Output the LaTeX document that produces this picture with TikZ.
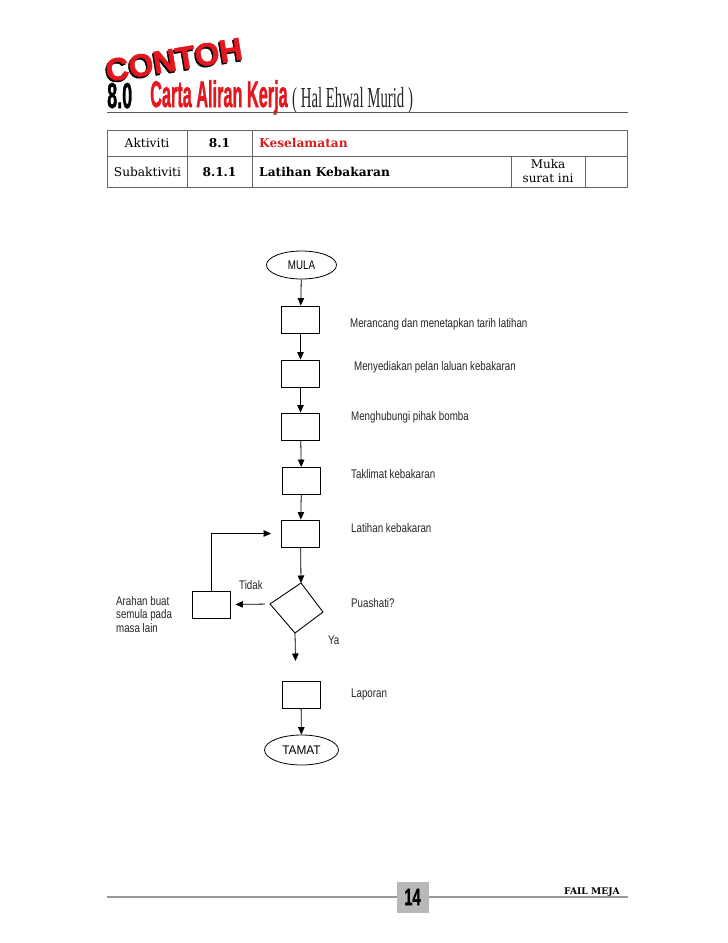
\documentclass[tikz,border=0pt]{standalone}
\usepackage{fontspec}
\setmainfont{Liberation Sans}
\newfontfamily\serifbk{DejaVu Serif}
\newfontfamily\timesf{Liberation Serif}
\newfontfamily\heavy{Liberation Sans}[BoldFeatures={FakeBold=1.5}]
\usetikzlibrary{shapes.geometric,arrows.meta}
\definecolor{titlered}{RGB}{228,22,30}
\definecolor{tblred}{RGB}{212,32,32}
\newcommand\narrowtxt[1]{\scalebox{0.78}[1]{#1}}
\newcommand\shadowtxt[1]{\makebox[0pt][l]{\hspace{-1.5pt}\raisebox{-1.5pt}{\color{black}#1}}#1}
\begin{document}
\begin{tikzpicture}[x=1pt,y=-1pt,
  flowbox/.style={draw, line width=0.9pt, minimum width=38pt, minimum height=27pt, inner sep=0pt},
  term/.style={draw, ellipse, line width=0.8pt, minimum width=70pt, minimum height=28pt, inner sep=0pt, font=\fontsize{12.5}{14}\selectfont},
  lbl/.style={anchor=base west, inner sep=0pt, font=\fontsize{12.5}{14}\selectfont, text=black!85},
  arr/.style={-{Triangle[length=7.5pt,width=6.5pt]}, line width=0.8pt},
  tbl/.style={draw=black!60, line width=0.8pt},
  tbtxt/.style={inner sep=0pt, font=\serifbk\fontsize{12.2}{14}\selectfont}
]
\fill[white] (0,0) rectangle (728,943);
\useasboundingbox (0,0) rectangle (728,943);

% ---- title ----
\node[anchor=base west, inner sep=0pt, rotate=9.5, text=titlered] (contoh) at (107.5,82)
  {\heavy\bfseries\fontsize{32}{32}\selectfont \shadowtxt{CONTOH}};
\node[anchor=base west, inner sep=0pt] (eight) at (107,108)
  {\scalebox{0.5}[1]{\heavy\bfseries\fontsize{36}{36}\selectfont 8.0}};
\node[anchor=base west, inner sep=0pt, text=titlered] (carta) at (150,107)
  {\scalebox{0.44}[1]{\heavy\bfseries\fontsize{37}{37}\selectfont Carta Aliran Kerja}};
\node[anchor=base west, inner sep=0pt, text=black!85] (hal) at (292,107)
  {\scalebox{0.51}[1]{\timesf\fontsize{29}{29}\selectfont ( Hal Ehwal Murid )}};
\draw[black!65, line width=1pt] (107,112) -- (628,112);

% ---- table ----
\draw[tbl] (107,130) rectangle (627,187);
\draw[tbl] (107,156) -- (627,156);
\draw[tbl] (187,130) -- (187,187);
\draw[tbl] (252,130) -- (252,187);
\draw[tbl] (511,156) -- (511,187);
\draw[tbl] (585,156) -- (585,187);
\node[tbtxt] (t11) at (147,143) {Aktiviti};
\node[tbtxt] (t12) at (219.5,143) {\bfseries 8.1};
\node[tbtxt, anchor=west, text=tblred] (t13) at (259,143) {\bfseries Keselamatan};
\node[tbtxt] (t21) at (147.5,172) {Subaktiviti};
\node[tbtxt] (t22) at (219.5,172) {\bfseries 8.1.1};
\node[tbtxt, anchor=west] (t23) at (259,172) {\bfseries Latihan Kebakaran};
\node[tbtxt, align=center, font=\serifbk\fontsize{12}{14}\selectfont] (t24) at (548,171) {Muka\\surat ini};

% ---- flowchart ----
\node[term] (mula) at (301.5,265) {\narrowtxt{MULA}};
\node[flowbox] (b1) at (300.5,319.5) {};
\node[flowbox] (b2) at (300.5,373.5) {};
\node[flowbox] (b3) at (300.5,426.5) {};
\node[flowbox] (b4) at (301.5,481) {};
\node[flowbox] (b5) at (300.5,533.5) {};
\node[flowbox] (arahan) at (211,604.5) {};
\node[flowbox] (lap) at (301,694.5) {};
\node[term, minimum width=74pt, minimum height=30pt] (tamat) at (301.5,750) {\scalebox{0.95}[1]{TAMAT}};

\coordinate (dT) at (301,583);
\coordinate (dR) at (323,612);
\coordinate (dB) at (295,633);
\coordinate (dL) at (270,604);
\draw[line width=0.9pt] (dT) -- (dR) -- (dB) -- (dL) -- cycle;
\coordinate (yaend) at (295.5,661);

\draw[arr] (mula) -- (b1);
\draw[arr] (b1) -- (b2);
\draw[arr] (b2) -- (b3);
\draw[arr] (b3) -- (b4);
\draw[arr] (b4) -- (b5);
\draw[arr] (b5) -- (dT);
\draw[arr, shorten <=5pt, shorten >=5pt] (dL) -- (arahan.east);
\draw[arr, shorten >=10pt] (arahan.north) |- (b5.west);
\draw[arr] (dB) -- (yaend);
\draw[arr] (lap) -- (tamat);

\node[lbl] (l1) at (350,327.5) {\narrowtxt{Merancang dan menetapkan tarih latihan}};
\node[lbl] (l2) at (354,370.5) {\narrowtxt{Menyediakan pelan laluan kebakaran}};
\node[lbl] (l3) at (351,420.5) {\narrowtxt{Menghubungi pihak bomba}};
\node[lbl] (l4) at (351,478) {\narrowtxt{Taklimat kebakaran}};
\node[lbl] (l5) at (351,532) {\narrowtxt{Latihan kebakaran}};
\node[lbl] (l6) at (351,607) {\narrowtxt{Puashati?}};
\node[lbl] (tidak) at (239,589) {\narrowtxt{Tidak}};
\node[lbl] (ya) at (328,644.5) {\narrowtxt{Ya}};
\node[lbl] (l7) at (351,697.5) {\narrowtxt{Laporan}};
\node[lbl] (a1) at (116,605.5) {\narrowtxt{Arahan buat}};
\node[lbl] (a2) at (116,618.5) {\narrowtxt{semula pada}};
\node[lbl] (a3) at (116,632) {\narrowtxt{masa lain}};

% ---- footer ----
\draw[black!40, line width=1.2pt] (107,897) -- (628,897);
\node[fill=black!28, minimum width=32pt, minimum height=31pt, inner sep=0pt] (pg) at (412.5,897)
  {\scalebox{0.62}[1]{\heavy\bfseries\fontsize{23.5}{24}\selectfont 14}};
\node[anchor=base east, inner sep=0pt] (fail) at (620,894.5)
  {\serifbk\bfseries\fontsize{9.2}{10}\selectfont FAIL MEJA};
\end{tikzpicture}
\end{document}
